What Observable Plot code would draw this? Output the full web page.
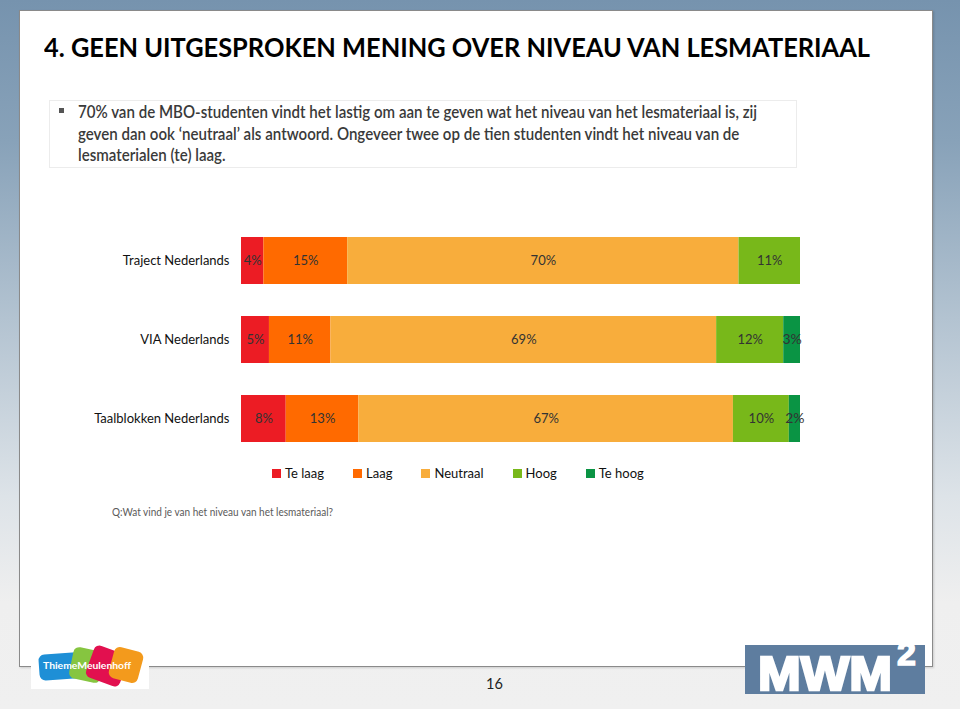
<!DOCTYPE html>
<html>
<head>
<meta charset="utf-8">
<script src="https://cdn.jsdelivr.net/npm/d3@7"></script>
<script src="https://cdn.jsdelivr.net/npm/@observablehq/plot@0.6"></script>
<style>
  html, body { margin: 0; padding: 0; }
  body {
    width: 960px; height: 709px; position: relative; overflow: hidden;
    font-family: Lato, "Open Sans", sans-serif;
    background: linear-gradient(to bottom, #7693ae 0%, #88a2b9 20%, #b3c3d1 45%, #dde3e8 70%, #efefef 85%, #f0f0f0 100%);
  }
  .abs { position: absolute; }
  #panel { left: 19px; top: 10px; width: 914px; height: 657px; background: #fff; border: 1px solid #8a8a8a; box-sizing: border-box; box-shadow: 1px 1px 2px rgba(0,0,0,0.15); }
  .fit { display: inline-block; white-space: nowrap; transform-origin: left center; }
  #title { left: 44px; top: 30px; font-weight: 700; font-size: 27px; color: #000; line-height: 34px; }
  #box { left: 49px; top: 100px; width: 748px; height: 68px; border: 1px solid #ececec; box-sizing: border-box; }
  .bline { left: 78px; font-size: 16.5px; color: #3a3a3a; line-height: 20px; font-weight: 600; }
  #bullet { left: 59px; top: 108px; width: 5px; height: 5px; background: #555; }
  #chart { left: 0px; top: 220px; }
  #legend { left: 272px; top: 465px; display: flex; gap: 0; font-size: 13px; color: #111; }
  .lg { display: flex; align-items: center; margin-right: 29px; }
  .sw { width: 9px; height: 9px; margin-right: 4px; }
  #caption { left: 112px; top: 505px; font-size: 10.5px; color: #5a5a5a; line-height: 14px; }
  #page { left: 486px; top: 675px; font-size: 14.5px; color: #222; }
</style>
</head>
<body>
<div id="panel" class="abs"></div>
<div id="title" class="abs"><span class="fit" data-w="826">4. GEEN UITGESPROKEN MENING OVER NIVEAU VAN LESMATERIAAL</span></div>
<div id="box" class="abs"></div>
<div id="bullet" class="abs"></div>
<div class="abs bline" style="top:102px"><span class="fit" data-w="679" data-group="b">70% van de MBO-studenten vindt het lastig om aan te geven wat het niveau van het lesmateriaal is, zij</span></div>
<div class="abs bline" style="top:124px"><span class="fit" data-group="b">geven dan ook ‘neutraal’ als antwoord. Ongeveer twee op de tien studenten vindt het niveau van de</span></div>
<div class="abs bline" style="top:145px"><span class="fit" data-group="b">lesmaterialen (te) laag.</span></div>
<div id="chart" class="abs"></div>
<div id="legend" class="abs"></div>
<div id="caption" class="abs"><span class="fit" data-w="221">Q:Wat vind je van het niveau van het lesmateriaal?</span></div>
<div id="page" class="abs">16</div>

<!-- ThiemeMeulenhoff logo -->
<svg class="abs" style="left:31px;top:641px" width="118" height="48" viewBox="0 0 118 48">
  <rect x="0" y="0" width="118" height="48" fill="#fff"/>
  <rect x="8" y="12" width="54" height="26" rx="6" fill="#1e8fd6" transform="rotate(-4 35 25)"/>
  <rect x="40" y="8" width="32" height="32" rx="6" fill="#86c540" transform="rotate(12 56 24)"/>
  <rect x="58" y="8" width="36" height="34" rx="6" fill="#e2104f" transform="rotate(20 76 25)"/>
  <rect x="80" y="8" width="30" height="32" rx="6" fill="#f39a1c" transform="rotate(15 95 24)"/>
  <text x="12" y="28" fill="#fff" font-family="Lato" font-weight="700" font-size="10" textLength="88" lengthAdjust="spacingAndGlyphs">ThiemeMeulenhoff</text>
</svg>
<!-- MWM2 logo -->
<svg class="abs" style="left:745px;top:634px" width="195" height="75" viewBox="0 0 195 75">
  <rect x="0" y="11" width="180" height="49" fill="#5e7d9f"/>
  <text x="13" y="56" fill="#fff" stroke="#fff" stroke-width="2.5" font-family="Liberation Sans, Arial, sans-serif" font-weight="700" font-size="48" textLength="134" lengthAdjust="spacingAndGlyphs">MWM</text>
  <text x="152" y="31" fill="#fff" stroke="#fff" stroke-width="1.5" font-family="Liberation Sans, Arial, sans-serif" font-weight="700" font-size="34">2</text>
</svg>

<script>
const categories = ["Traject Nederlands", "VIA Nederlands", "Taalblokken Nederlands"];
const levels = ["Te laag", "Laag", "Neutraal", "Hoog", "Te hoog"];
const teLaag   = [4, 5, 8];
const laag     = [15, 11, 13];
const neutraal = [70, 69, 67];
const hoog     = [11, 12, 10];
const teHoog   = [0, 3, 2];
const colors = ["#ec1c24", "#ff6a00", "#f8ad3c", "#78b81a", "#0a9444"];

const series = [teLaag, laag, neutraal, hoog, teHoog];
const rows = [];
categories.forEach((c, i) => {
  levels.forEach((l, j) => {
    if (series[j][i] > 0) rows.push({category: c, level: l, value: series[j][i]});
  });
});

const chart = Plot.plot({
  width: 820,
  height: 239,
  marginLeft: 241,
  marginRight: 20,
  marginTop: 0,
  marginBottom: 0,
  style: {fontFamily: "Lato, sans-serif", fontSize: "13px", background: "transparent"},
  x: {domain: [0, 100], axis: null},
  y: {domain: categories, paddingInner: 0.4, paddingOuter: 0.2, label: null},
  color: {domain: levels, range: colors},
  marks: [
    Plot.barX(rows, Plot.stackX({x: "value", y: "category", fill: "level", order: levels})),
    Plot.text(rows, Plot.stackX({
      x: "value", y: "category", z: "level", order: levels,
      text: d => d.value + "%",
      fill: "#333",
      fontFamily: d => d.value <= 3 ? "Liberation Sans, Arial, sans-serif" : "Lato, sans-serif",
      fontSize: d => d.value <= 3 ? 14 : 13
    })),
    Plot.axisY({tickSize: 0, tickPadding: 12, fontSize: 13, color: "#111", label: null})
  ]
});
document.getElementById("chart").appendChild(chart);

const legend = document.getElementById("legend");
levels.forEach((l, j) => {
  const item = document.createElement("div");
  item.className = "lg";
  item.innerHTML = `<span class="sw" style="background:${colors[j]}"></span><span>${l}</span>`;
  legend.appendChild(item);
});

function fitAll() {
  const spans = document.querySelectorAll(".fit");
  let groupScale = null;
  spans.forEach(s => {
    s.style.transform = "none";
  });
  spans.forEach(s => {
    const nat = s.getBoundingClientRect().width;
    if (s.dataset.w) {
      const k = +s.dataset.w / nat;
      s.style.transform = `scaleX(${k})`;
      if (s.dataset.group === "b") groupScale = k;
    } else if (s.dataset.group === "b" && groupScale) {
      s.style.transform = `scaleX(${groupScale})`;
    }
  });
}
fitAll();
if (document.fonts && document.fonts.ready) document.fonts.ready.then(fitAll);
</script>
</body>
</html>
